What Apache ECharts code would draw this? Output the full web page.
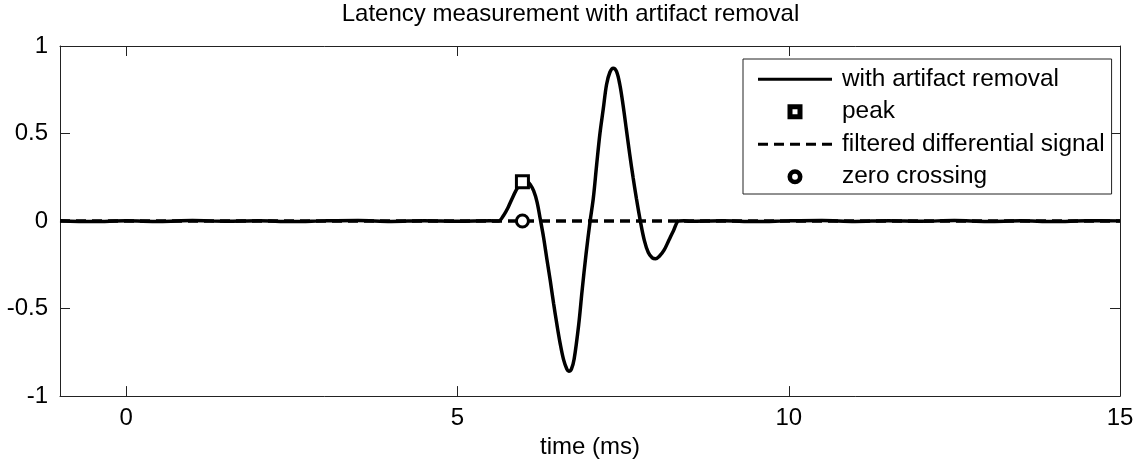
<!DOCTYPE html>
<html>
<head>
<meta charset="utf-8">
<script src="https://cdn.jsdelivr.net/npm/echarts@6/dist/echarts.min.js"></script>
<style>
  html, body { margin: 0; padding: 0; background: #fff; }
  #chart { width: 1141px; height: 464px; }
</style>
</head>
<body>
<div id="chart"></div>
<script>
// ---- data ----
const chartTitle = 'Latency measurement with artifact removal';
const xAxisName = 'time (ms)';
const xTicks = [0, 5, 10, 15];
const seriesNames = ['with artifact removal', 'peak', 'filtered differential signal', 'zero crossing'];

// time (ms) of the signal "with artifact removal"
const timeMs = [
  -1, -0.5, 0, 0.5, 1, 1.5, 2, 2.5, 3, 3.5, 4, 4.5, 5, 5.5, 5.58,
  5.62, 5.70, 5.76, 5.82, 5.88, 5.94, 6.00, 6.05, 6.10, 6.15, 6.20, 6.25,
  6.30, 6.35, 6.40, 6.45, 6.50, 6.55, 6.60, 6.65, 6.68, 6.72, 6.76, 6.83,
  6.88, 6.94, 7.00, 7.05, 7.10, 7.15, 7.20, 7.25, 7.30, 7.35, 7.40, 7.45,
  7.50, 7.55, 7.60, 7.65, 7.70, 7.76, 7.82, 7.88, 7.94, 7.99, 8.05, 8.12,
  8.19, 8.26, 8.34, 8.42, 8.5, 9, 9.5, 10, 10.5, 11, 11.5, 12, 12.5, 13, 13.5, 14, 14.5, 15
];
const withRemoval = [
  0.002, -0.003, 0.001, -0.002, 0.003, -0.001, 0.002, -0.003, 0.001, 0.003, -0.002, 0.002, -0.001, 0.001, 0,
  0, 0.035, 0.075, 0.125, 0.172, 0.210, 0.226, 0.226, 0.208, 0.172, 0.110, 0.010,
  -0.095, -0.22, -0.34, -0.47, -0.59, -0.70, -0.79, -0.845, -0.858, -0.845, -0.79, -0.59,
  -0.40, -0.19, -0.005, 0.13, 0.32, 0.50, 0.64, 0.78, 0.85, 0.873, 0.855, 0.78,
  0.66, 0.52, 0.38, 0.25, 0.13, 0.00, -0.11, -0.18, -0.21, -0.215, -0.20, -0.165,
  -0.11, -0.055, 0, 0.001, -0.001, 0.002, -0.003, 0.001, 0.003, -0.002, 0.002, -0.001, 0.003, -0.002, 0.001, -0.003, 0.002, 0.001
];
// filtered differential signal (flat at zero)
const filteredTime = [-1, 15];
const filteredValues = [0, 0];
// markers
const peakPoint = [5.98, 0.225];
const zeroCrossPoint = [5.98, 0];

// ---- build options ----
const mainData = timeMs.map((t, i) => [t, withRemoval[i]]);
const filtData = filteredTime.map((t, i) => [t, filteredValues[i]]);

const FONT = 'Liberation Sans, Arial, sans-serif';
const FS = 24;
const axisColor = '#222';

const chart = echarts.init(document.getElementById('chart'), null, { renderer: 'canvas' });

const baseX = {
  type: 'value', min: -1, max: 15,
  axisLine: { show: true, onZero: false, lineStyle: { color: axisColor, width: 1 } },
  axisTick: { show: true, inside: true, length: 10, customValues: xTicks, lineStyle: { color: axisColor } },
  splitLine: { show: false }
};
const baseY = {
  type: 'value', min: -1, max: 1, interval: 0.5,
  axisLine: { show: true, onZero: false, lineStyle: { color: axisColor, width: 1 } },
  axisTick: { show: true, inside: true, length: 10, lineStyle: { color: axisColor } },
  splitLine: { show: false }
};

const legendItemStyle = { color: '#000', borderWidth: 0, opacity: 1 };

const option = {
  animation: false,
  backgroundColor: '#fff',
  title: {
    text: chartTitle,
    left: 'center',
    top: 0,
    padding: [2, 0, 0, 39],
    textStyle: { fontFamily: FONT, fontSize: FS, fontWeight: 'normal', color: '#000' }
  },
  grid: { left: 60, right: 21, top: 46, bottom: 67, containLabel: false },
  legend: {
    orient: 'vertical',
    left: 743, top: 59,
    padding: [4, 7, 1, 15],
    itemWidth: 74, itemHeight: 15, itemGap: 0,
    backgroundColor: '#fff',
    borderColor: '#222', borderWidth: 1,
    selectedMode: false,
    textStyle: { fontFamily: FONT, fontSize: 24.4, color: '#000', lineHeight: 32.5, padding: [0, 0, 0, 5] },
    data: [
      { name: seriesNames[0], icon: 'path://M0,0H74V3H0Z', itemStyle: legendItemStyle },
      { name: seriesNames[1], icon: 'path://M0,0H15V15H0Z M5,5V10H10V5Z', itemStyle: legendItemStyle },
      { name: seriesNames[2], icon: 'path://M0,0H10V3H0Z M16,0H26V3H16Z M32,0H42V3H32Z M48,0H58V3H48Z M64,0H74V3H64Z', itemStyle: legendItemStyle },
      { name: seriesNames[3], icon: 'path://M7.5,0A7.5,7.5 0 1 1 7.5,15A7.5,7.5 0 1 1 7.5,0Z M7.5,4.6A2.9,2.9 0 1 0 7.5,10.4A2.9,2.9 0 1 0 7.5,4.6Z', itemStyle: legendItemStyle }
    ]
  },
  xAxis: [
    Object.assign({}, baseX, {
      position: 'bottom',
      name: xAxisName, nameLocation: 'middle', nameGap: 37,
      nameTextStyle: { fontFamily: FONT, fontSize: FS, color: '#000' },
      axisLabel: { show: true, customValues: xTicks, margin: 10, fontFamily: FONT, fontSize: FS, color: '#000' }
    }),
    Object.assign({}, baseX, { position: 'top', axisLabel: { show: false } })
  ],
  yAxis: [
    Object.assign({}, baseY, {
      position: 'left',
      axisLabel: { show: true, margin: 12, fontFamily: FONT, fontSize: FS, color: '#000' }
    }),
    Object.assign({}, baseY, { position: 'right', axisLabel: { show: false } })
  ],
  series: [
    {
      name: seriesNames[0], type: 'line', data: mainData,
      showSymbol: false, smooth: 0.35, z: 2,
      lineStyle: { color: '#000', width: 3.5 }, itemStyle: { color: '#000' }
    },
    {
      name: seriesNames[1], type: 'scatter', data: [peakPoint],
      symbol: 'rect', symbolSize: 12, z: 5,
      itemStyle: { color: '#fff', borderColor: '#000', borderWidth: 3, opacity: 1 }
    },
    {
      name: seriesNames[2], type: 'line', data: filtData,
      showSymbol: false, z: 3,
      lineStyle: { color: '#000', width: 3.5, type: [10, 6] }, itemStyle: { color: '#000' }
    },
    {
      name: seriesNames[3], type: 'scatter', data: [zeroCrossPoint],
      symbol: 'circle', symbolSize: 12, z: 5,
      itemStyle: { color: '#fff', borderColor: '#000', borderWidth: 3, opacity: 1 }
    }
  ]
};
chart.setOption(option);
</script>
</body>
</html>
